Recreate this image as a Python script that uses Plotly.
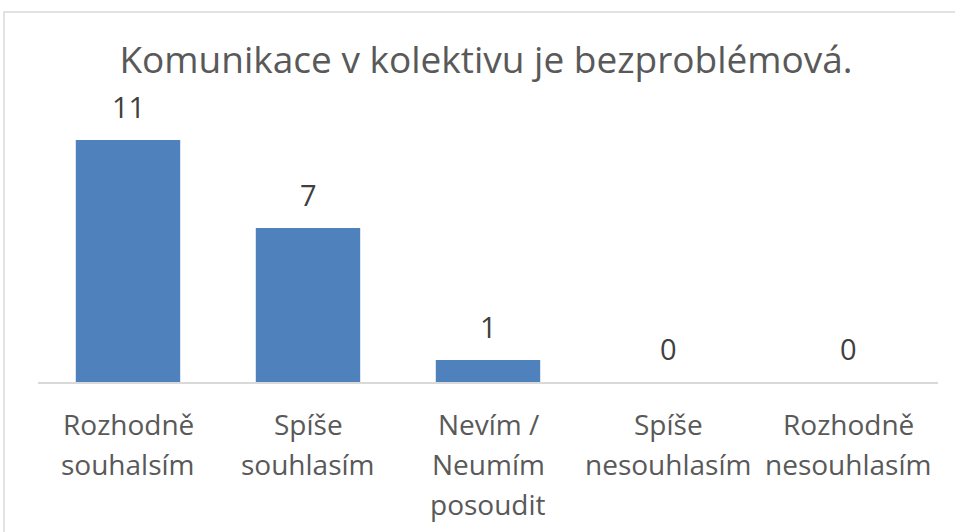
import plotly.graph_objects as go

categories = ["Rozhodně<br>souhalsím", "Spíše<br>souhlasím", "Nevím /<br>Neumím<br>posoudit",
              "Spíše<br>nesouhlasím", "Rozhodně<br>nesouhlasím"]
values = [11, 7, 1, 0, 0]
title_text = "Komunikace v kolektivu je bezproblémová."

W, H = 955, 532
L, R, T, B = 38, 17, 118, 150
pw, ph = W - L - R, H - T - B

def px_x(p):
    return (p - L) / pw

def px_y(p):
    return (H - B - p) / ph

font = "'Open Sans', sans-serif"

fig = go.Figure(go.Bar(
    x=categories, y=values,
    marker=dict(color="#4F81BD", line=dict(width=0)),
    width=0.58,
    hoverinfo="y",
))

for c, v in zip(categories, values):
    fig.add_annotation(x=c, y=v, text=str(v), showarrow=False, yanchor="bottom",
                       yshift=12, font=dict(size=29, color="#404040", family=font))

# category labels, one annotation per line for Excel-like line spacing
for c in categories:
    for i, line in enumerate(c.split("<br>")):
        fig.add_annotation(x=c, xref="x", y=0, yref="paper", text=line, showarrow=False,
                           yanchor="middle", yshift=-(42 + 40 * i),
                           font=dict(size=28, color="#595959", family=font))

fig.update_layout(
    width=W, height=H,
    margin=dict(l=L, r=R, t=T, b=B),
    paper_bgcolor="white", plot_bgcolor="white",
    title=dict(text=title_text, x=486 / W, xanchor="center", y=1 - 60 / H, yanchor="middle",
               font=dict(size=37, color="#595959", family=font)),
    showlegend=False,
    xaxis=dict(showline=True, linecolor="#d9d9d9", linewidth=2, ticks="",
               showticklabels=False, showgrid=False),
    yaxis=dict(range=[0, 12], visible=False, showgrid=False),
    shapes=[dict(type="rect", xref="paper", yref="paper",
                 x0=px_x(4), x1=px_x(1000), y0=px_y(600), y1=px_y(12),
                 line=dict(color="#d9d9d9", width=1.5), fillcolor="rgba(0,0,0,0)", layer="below")],
)

fig.write_html("out.html", config={"displayModeBar": False},
               post_script="document.body.style.margin='0';")
